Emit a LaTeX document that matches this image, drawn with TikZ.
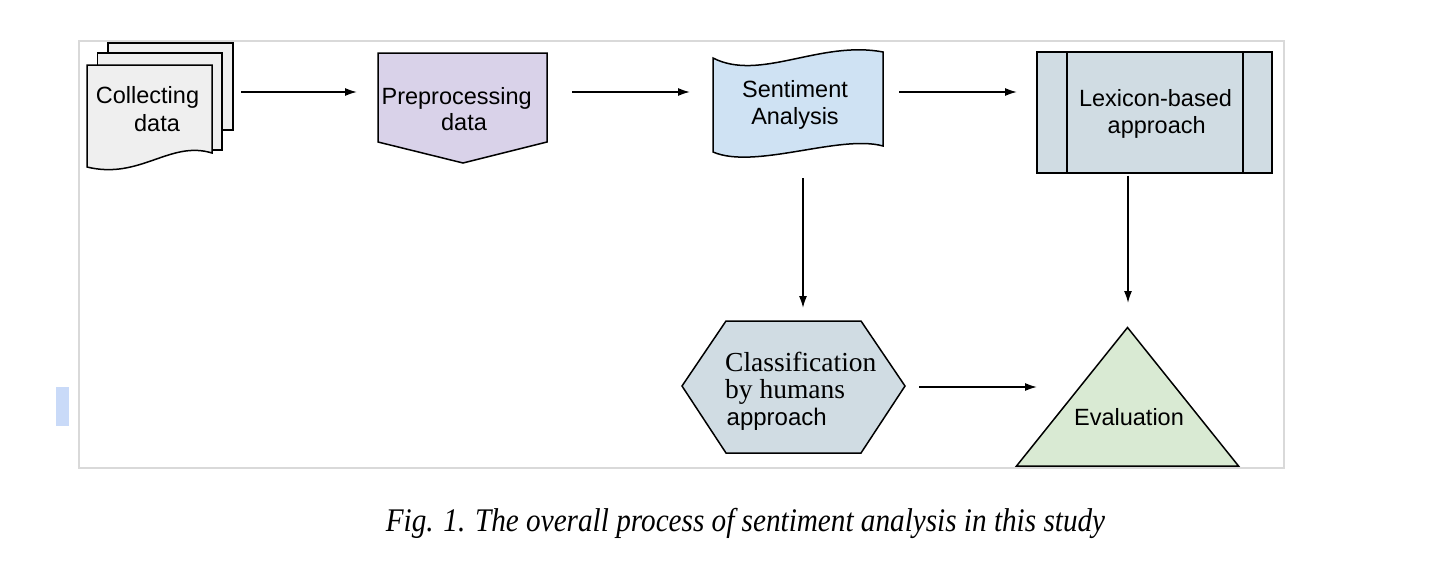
\documentclass[tikz,border=0pt]{standalone}
\usepackage{fontspec}
\setmainfont{Liberation Serif}
\setsansfont{Liberation Sans}
\usetikzlibrary{arrows.meta}
\definecolor{framec}{HTML}{D9D9D9}
\definecolor{docfill}{HTML}{EFEFEF}
\definecolor{prefill}{HTML}{D9D2E9}
\definecolor{senfill}{HTML}{CFE2F3}
\definecolor{lexfill}{HTML}{D0DCE3}
\definecolor{hexfill}{HTML}{D0DCE3}
\definecolor{trifill}{HTML}{D9EAD3}
\definecolor{markfill}{HTML}{C9DAF8}
\tikzset{
  bb/.style={draw=none, inner sep=0pt, outer sep=0pt},
  shp/.style={draw=black, line width=1.5pt, line join=miter},
  arr/.style={line width=1.6pt, -{Latex[length=12pt,width=8pt]}},
  sanstxt/.style={inner sep=0pt, font=\sffamily\fontsize{23.5}{28}\selectfont, anchor=base},
  seriftxt/.style={inner sep=0pt, font=\rmfamily\fontsize{27.5}{30}\selectfont, anchor=base west},
}
\begin{document}
\begin{tikzpicture}[x=1pt,y=-1pt]
\useasboundingbox (0,0) rectangle (1440,574);
\fill[white] (0,0) rectangle (1440,574);
% frame
\draw[framec, line width=2pt] (79,41) rectangle (1284,468);
\fill[markfill] (55.5,387) rectangle (68.5,426);
% bounding nodes
\node[bb, minimum width=146pt, minimum height=129pt] (col) at (160,107.5) {};
\node[bb, minimum width=169pt, minimum height=110pt] (pre) at (462.5,108) {};
\node[bb, minimum width=170pt, minimum height=106pt] (sen) at (798,105) {};
\node[bb, minimum width=235pt, minimum height=121pt] (lex) at (1154.5,112.5) {};
\node[bb, minimum width=223pt, minimum height=132pt] (hex) at (793.5,387) {};
\node[bb, minimum width=221pt, minimum height=139pt] (tri) at (1127.5,396.5) {};
% multi-document
\draw[shp, fill=docfill] (108,43) rectangle (233,130);
\draw[shp, fill=docfill] (97.5,53) rectangle (222,150);
\draw[shp, fill=docfill] (87,65) -- (212,65) -- (212,153)
  .. controls (170,140) and (140,180) .. (87,167) -- cycle;
% preprocessing pentagon
\draw[shp, fill=prefill] (378,53) -- (547,53) -- (547,142) -- (463,163) -- (378,142) -- cycle;
% tape
\draw[shp, fill=senfill] (713,58) .. controls (760,82) and (820,40) .. (883,52)
  -- (883,146) .. controls (840,134) and (755,170) .. (713,152) -- cycle;
% lexicon predefined process
\draw[shp, fill=lexfill] (1037,52) rectangle (1272,173);
\draw[shp] (1067,52) -- (1067,173);
\draw[shp] (1243,52) -- (1243,173);
% hexagon
\draw[shp, fill=hexfill] (682,386) -- (726,321) -- (861,321) -- (905,386) -- (861,453) -- (726,453) -- cycle;
% triangle
\draw[shp, fill=trifill] (1127.5,327.5) -- (1238.5,466) -- (1016.5,466) -- cycle;
% texts
\node[sanstxt] (colA) at (147.5,103.5) {Collecting};
\node[sanstxt] (colB) at (157,131.5) {data};
\node[sanstxt] (preA) at (456.7,104.3) {Preprocessing};
\node[sanstxt] (preB) at (464,130.8) {data};
\node[sanstxt] (senA) at (795,97.7) {Sentiment};
\node[sanstxt] (senB) at (795,124.5) {Analysis};
\node[sanstxt] (lexA) at (1155.5,106.7) {Lexicon-based};
\node[sanstxt] (lexB) at (1156.7,133.3) {approach};
\node[seriftxt] (hexA) at (725,371) {Classification};
\node[seriftxt] (hexB) at (725,398.3) {by humans};
\node[sanstxt, anchor=base west, font=\sffamily\fontsize{24}{28}\selectfont] (hexC) at (726.5,425.5) {approach};
\node[sanstxt] (ev) at (1129,425.7) {Evaluation};
\node[inner sep=0pt, anchor=base, font=\rmfamily\itshape\fontsize{33}{36}\selectfont] (cap) at (745.5,531) {\scalebox{0.885}[1]{Fig. 1. The overall process of sentiment analysis in this study}};
% connectors
\coordinate (r1) at (0,92);
\coordinate (r2) at (0,387);
\coordinate (c1) at (803,0);
\coordinate (c2) at (1128,0);
\draw[arr, shorten <=8pt, shorten >=21pt] (col.east |- r1) -- (pre.west |- r1);
\draw[arr, shorten <=25pt, shorten >=23pt] (pre.east |- r1) -- (sen.west |- r1);
\draw[arr, shorten <=16pt, shorten >=20pt] (sen.east |- r1) -- (lex.west |- r1);
\draw[arr, shorten <=20pt, shorten >=13pt] (sen.south -| c1) -- (hex.north -| c1);
\draw[arr, shorten <=2.5pt, shorten >=24pt] (lex.south -| c2) -- (tri.north -| c2);
\draw[arr, shorten <=14pt, shorten >=-20pt] (hex.east |- r2) -- (tri.west |- r2);
\end{tikzpicture}
\end{document}
